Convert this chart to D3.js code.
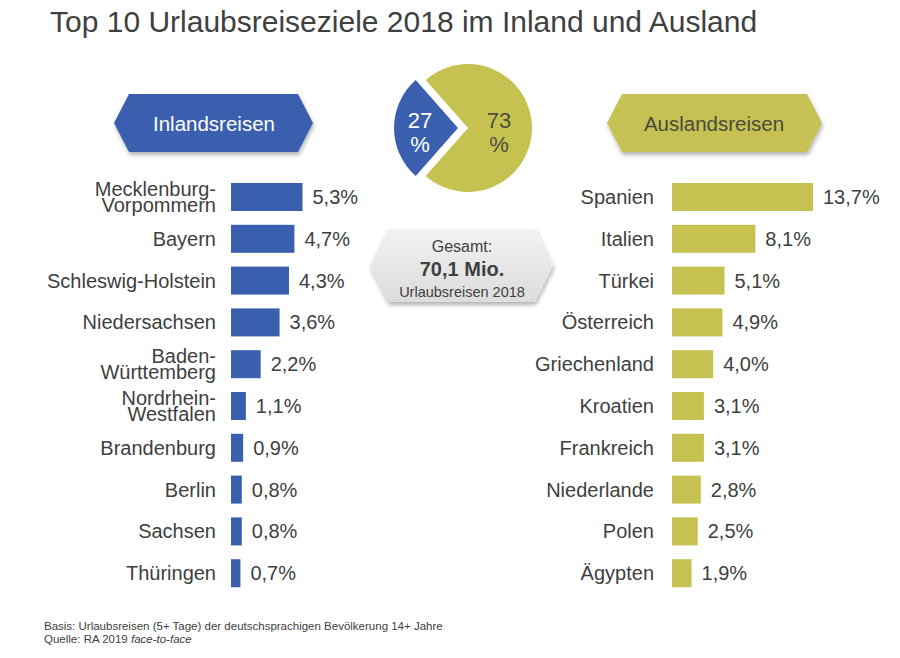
<!DOCTYPE html>
<html>
<head>
<meta charset="utf-8">
<script src="https://cdn.jsdelivr.net/npm/d3@7"></script>
<style>
  body { margin: 0; background: #fff; }
  svg { font-family: Arial, "Liberation Sans", sans-serif; }
</style>
</head>
<body>
<svg id="chart" width="900" height="658"></svg>
<script>
// inland destinations (share of all trips, %)
const inlandNames = ["Mecklenburg-\nVorpommern", "Bayern", "Schleswig-Holstein", "Niedersachsen",
  "Baden-\nWürttemberg", "Nordrhein-\nWestfalen", "Brandenburg", "Berlin", "Sachsen", "Thüringen"]
const inlandValues = [5.3, 4.7, 4.3, 3.6, 2.2, 1.1, 0.9, 0.8, 0.8, 0.7]

// foreign destinations
const abroadNames = ["Spanien", "Italien", "Türkei", "Österreich", "Griechenland",
  "Kroatien", "Frankreich", "Niederlande", "Polen", "Ägypten"]
const abroadValues = [13.7, 8.1, 5.1, 4.9, 4.0, 3.1, 3.1, 2.8, 2.5, 1.9]

// split inland / abroad
const pieLabels = ["Inland", "Ausland"]
const pieValues = [27, 73]

const blue = "#3a5fae"
const olive = "#c5c252"
const textCol = "#404040"
const fmt = v => d3.format(".1f")(v).replace(".", ",") + "%"

const svg = d3.select("#chart")

const defs = svg.append("defs")
const shadow = defs.append("filter").attr("id", "shadow")
  .attr("x", "-10%").attr("y", "-10%").attr("width", "120%").attr("height", "140%")
shadow.append("feDropShadow").attr("dx", 1).attr("dy", 3).attr("stdDeviation", 2)
  .attr("flood-color", "#000").attr("flood-opacity", 0.3)
const grad = defs.append("linearGradient").attr("id", "grayGrad")
  .attr("x1", 0).attr("y1", 0).attr("x2", 0).attr("y2", 1)
grad.append("stop").attr("offset", "0%").attr("stop-color", "#f2f2f2")
grad.append("stop").attr("offset", "100%").attr("stop-color", "#dcdcdc")

// title
svg.append("text")
  .attr("x", 50).attr("y", 32)
  .attr("font-size", 30)
  .attr("fill", textCol)
  .text("Top 10 Urlaubsreiseziele 2018 im Inland und Ausland")

// hexagon banner helper
function banner(x0, x1, y0, y1, tip) {
  const ym = (y0 + y1) / 2
  return [[x0, ym], [x0 + tip, y0], [x1 - tip, y0], [x1, ym], [x1 - tip, y1], [x0 + tip, y1]]
}
const hexLine = d3.line().curve(d3.curveLinearClosed)

svg.append("path")
  .attr("d", hexLine(banner(114, 313, 94, 152, 15)))
  .attr("fill", blue).attr("filter", "url(#shadow)")
svg.append("text")
  .attr("x", 214).attr("y", 131).attr("text-anchor", "middle")
  .attr("font-size", 20.5).attr("fill", "#fff")
  .text("Inlandsreisen")

svg.append("path")
  .attr("d", hexLine(banner(607, 822, 94, 152, 15)))
  .attr("fill", olive).attr("filter", "url(#shadow)")
svg.append("text")
  .attr("x", 714).attr("y", 131).attr("text-anchor", "middle")
  .attr("font-size", 20.5).attr("fill", "#4a4a3c")
  .text("Auslandsreisen")

// total box
svg.append("path")
  .attr("d", hexLine(banner(370, 553, 229, 302, 18)))
  .attr("fill", "url(#grayGrad)").attr("filter", "url(#shadow)")
const totalBox = svg.append("g").attr("fill", textCol).attr("text-anchor", "middle")
totalBox.append("text").attr("x", 462).attr("y", 252).attr("font-size", 16).text("Gesamt:")
totalBox.append("text").attr("x", 462).attr("y", 276).attr("font-size", 20)
  .attr("font-weight", "bold").text("70,1 Mio.")
totalBox.append("text").attr("x", 462).attr("y", 297).attr("font-size", 14.5).text("Urlaubsreisen 2018")

// pie, the two slices pulled apart
const pie = d3.pie().sort(null)
  .startAngle(-Math.PI / 2 - Math.PI * pieValues[0] / 100)
  .endAngle(-Math.PI / 2 - Math.PI * pieValues[0] / 100 + 2 * Math.PI)
const arc = d3.arc().innerRadius(0).outerRadius(64)
const pieG = svg.append("g").attr("transform", "translate(463,128)")
const offsets = [-5, 5]
const slices = pieG.selectAll("g.slice")
  .data(pie(pieValues))
  .join("g")
  .attr("class", "slice")
  .attr("transform", (d, i) => `translate(${offsets[i]},0)`)
slices.append("path")
  .attr("d", arc)
  .attr("fill", (d, i) => i === 0 ? blue : olive)
const labelPos = [-38, 31]
slices.each(function (d, i) {
  const t = d3.select(this).append("text")
    .attr("text-anchor", "middle")
    .attr("font-size", 22)
    .attr("fill", i === 0 ? "#fff" : "#4d4d3a")
  t.append("tspan").attr("x", labelPos[i]).attr("y", 0).text(pieValues[i])
  t.append("tspan").attr("x", labelPos[i]).attr("y", 24).text("%")
})

// bar groups
const y = d3.scaleBand()
  .domain(d3.range(10))
  .range([176.1, 594.1])
  .paddingInner(0.33)
  .paddingOuter(0.165)

function barGroup(names, values, x, color, labelX) {
  const g = svg.append("g")
  g.selectAll("rect")
    .data(values)
    .join("rect")
    .attr("x", x(0))
    .attr("y", (d, i) => y(i))
    .attr("width", d => x(d) - x(0))
    .attr("height", y.bandwidth())
    .attr("fill", color)

  g.selectAll("text.val")
    .data(values)
    .join("text")
    .attr("class", "val")
    .attr("x", d => x(d) + 10)
    .attr("y", (d, i) => y(i) + y.bandwidth() / 2 + 7)
    .attr("font-size", 20)
    .attr("fill", textCol)
    .text(fmt)

  g.selectAll("text.cat")
    .data(names)
    .join("text")
    .attr("class", "cat")
    .attr("text-anchor", "end")
    .attr("font-size", 20)
    .attr("fill", textCol)
    .each(function (name, i) {
      const lines = name.split("\n")
      const cy = y(i) + y.bandwidth() / 2
      const lh = 16
      d3.select(this).selectAll("tspan")
        .data(lines)
        .join("tspan")
        .attr("x", labelX)
        .attr("y", (l, j) => cy + 7 + (j - (lines.length - 1) / 2) * lh)
        .text(l => l)
    })
}

const xIn = d3.scaleLinear().domain([0, 5.3]).range([231, 302.5])
const xOut = d3.scaleLinear().domain([0, 13.7]).range([672, 813])
barGroup(inlandNames, inlandValues, xIn, blue, 216)
barGroup(abroadNames, abroadValues, xOut, olive, 654)

// footnote
const foot = svg.append("text").attr("x", 44).attr("font-size", 11.5).attr("fill", textCol)
foot.append("tspan").attr("x", 44).attr("y", 630)
  .text("Basis: Urlaubsreisen (5+ Tage) der deutschsprachigen Bevölkerung 14+ Jahre")
foot.append("tspan").attr("x", 44).attr("y", 643).text("Quelle: RA 2019 ")
foot.append("tspan").attr("font-style", "italic").text("face-to-face")
</script>
</body>
</html>
